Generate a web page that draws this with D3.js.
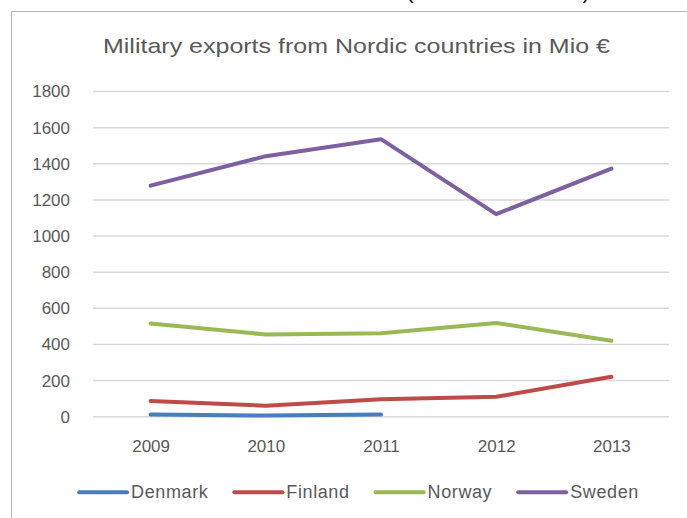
<!DOCTYPE html>
<html>
<head>
<meta charset="utf-8">
<script src="https://cdn.jsdelivr.net/npm/d3@7"></script>
<style>
  html, body { margin: 0; padding: 0; background: #ffffff; }
  svg { display: block; }
</style>
</head>
<body>
<div id="chart"></div>
<script>
// ---- Data ----
const years = ["2009", "2010", "2011", "2012", "2013"];
const denmark = [12, 6, 12, null, null];
const finland = [87, 61, 96, 110, 221];
const norway = [516, 455, 462, 519, 420];
const sweden = [1279, 1442, 1536, 1121, 1373];
const seriesNames = ["Denmark", "Finland", "Norway", "Sweden"];
const yTicks = [0, 200, 400, 600, 800, 1000, 1200, 1400, 1600, 1800];
const title = "Military exports from Nordic countries in Mio €";

const seriesValues = [denmark, finland, norway, sweden];
const colors = ["#4a7ebb", "#be4b48", "#98b954", "#7d60a0"];

const W = 687, H = 518;
const svg = d3.select("#chart").append("svg")
  .attr("width", W).attr("height", H);

const font = "'Liberation Sans', Arial, sans-serif";
const textColor = "#595959";

// cut-off text remnants at the top of the picture (as in the reference)
svg.append("text").attr("x", 410).attr("y", -1.5)
  .attr("text-anchor", "middle").style("font-family", font)
  .style("font-size", "20px").attr("fill", "#000").text("(");
svg.append("text").attr("x", 586).attr("y", -1.5)
  .attr("text-anchor", "middle").style("font-family", font)
  .style("font-size", "20px").attr("fill", "#000").text(")");

// chart frame (top and left edges visible)
svg.append("line").attr("x1", 11.5).attr("x2", W).attr("y1", 11.5).attr("y2", 11.5)
  .attr("stroke", "#b4b4b4").attr("stroke-width", 1);
svg.append("line").attr("x1", 11.5).attr("x2", 11.5).attr("y1", 11.5).attr("y2", H)
  .attr("stroke", "#b4b4b4").attr("stroke-width", 1);

// title
svg.append("text")
  .attr("x", 356.5).attr("y", 53.3)
  .attr("text-anchor", "middle")
  .style("font-family", font).style("font-size", "21px")
  .attr("fill", textColor)
  .attr("textLength", 507).attr("lengthAdjust", "spacingAndGlyphs")
  .text(title);

// scales
const x = d3.scalePoint().domain(years).range([93, 669]).padding(0.5);
const y = d3.scaleLinear().domain([0, 1800]).range([416.7, 91.5]);

// gridlines
svg.append("g").selectAll("line").data(yTicks).join("line")
  .attr("x1", 93).attr("x2", 669)
  .attr("y1", d => y(d)).attr("y2", d => y(d))
  .attr("stroke", "#d9d9d9").attr("stroke-width", 1.5);

// y axis labels
const yAxis = svg.append("g").attr("transform", "translate(93,0)")
  .call(d3.axisLeft(y).tickValues(yTicks).tickSize(0).tickPadding(23).tickFormat(d3.format("d")));
yAxis.select(".domain").remove();
yAxis.selectAll("text").style("font-family", font).style("font-size", "17px").attr("fill", textColor);

// x axis labels
const xAxis = svg.append("g").attr("transform", `translate(0,${y(0)})`)
  .call(d3.axisBottom(x).tickSize(0).tickPadding(23));
xAxis.select(".domain").remove();
xAxis.selectAll("text").style("font-family", font).style("font-size", "17px").attr("fill", textColor);

// lines
const line = d3.line()
  .defined(d => d.v !== null)
  .x(d => x(d.year)).y(d => y(d.v));

seriesValues.forEach((vals, i) => {
  const pts = years.map((yr, j) => ({ year: yr, v: vals[j] }));
  svg.append("path").datum(pts)
    .attr("d", line)
    .attr("fill", "none")
    .attr("stroke", colors[i])
    .attr("stroke-width", 4)
    .attr("stroke-linejoin", "round")
    .attr("stroke-linecap", "round");
});

// legend
const legend = svg.append("g");
const lineLen = 48, textGap = 4, itemGap = 26;
const items = seriesNames.map((name, i) => {
  const g = legend.append("g");
  g.append("line").attr("x1", 0).attr("x2", lineLen).attr("y1", 492.3).attr("y2", 492.3)
    .attr("stroke", colors[i]).attr("stroke-width", 4).attr("stroke-linecap", "round");
  const t = g.append("text").attr("x", lineLen + textGap).attr("y", 498.3)
    .style("font-family", font).style("font-size", "18px")
    .style("letter-spacing", "0.6px")
    .attr("fill", textColor).text(name);
  return { g, w: lineLen + textGap + t.node().getComputedTextLength() };
});
const total = d3.sum(items, d => d.w) + itemGap * (items.length - 1);
let cx = 359 - total / 2;
items.forEach(it => {
  it.g.attr("transform", `translate(${cx},0)`);
  cx += it.w + itemGap;
});
</script>
</body>
</html>
